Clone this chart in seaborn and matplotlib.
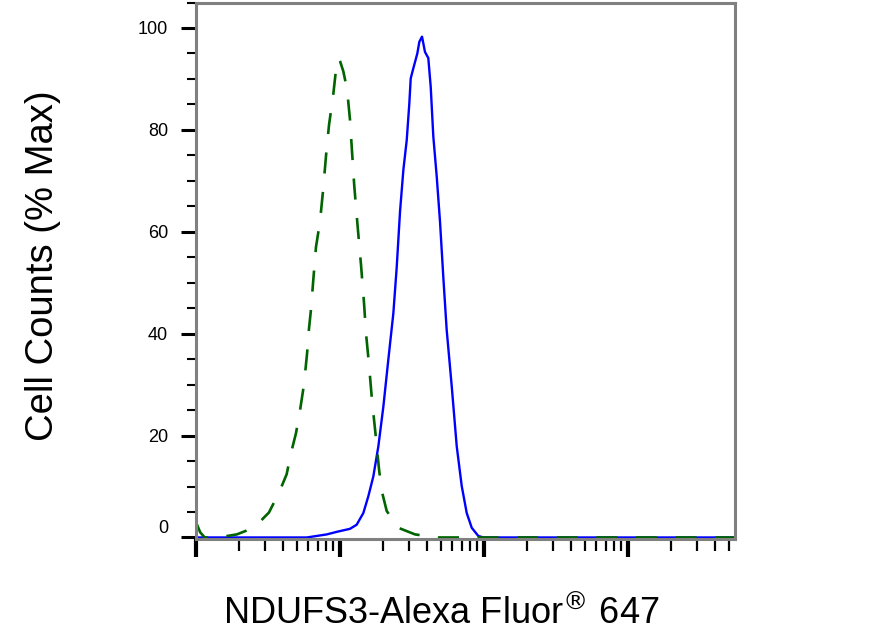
import matplotlib
matplotlib.use("Agg")
import matplotlib.pyplot as plt
import matplotlib.ticker as mticker
import pandas as pd
import seaborn as sns

# blue: NDUFS3 stained cells (intensity, % max)
stained_x = [10, 58.8, 80.9, 94.8, 117.3, 130.5, 145.2, 157.3, 170.4, 184.6, 200, 216.5,
             234.6, 247.5, 261.1, 275.5, 290.6, 302.9, 309.7, 323, 344.2, 355.6, 371,
             389, 410.2, 426.3, 444.5, 469.5, 494.7, 521.8, 550.2, 596.6, 646.3, 700,
             758.3, 821.7, 912, 989, 55300]
stained_y = [0, 0, 0.6, 1.1, 1.7, 2.5, 4.8, 8.1, 12, 17.9, 25.7, 34.9,
             44, 53, 64, 72.2, 78, 85.2, 90.1, 92.1, 95, 97.3, 98.3,
             95.3, 94.1, 88.5, 78.7, 70.8, 62, 51, 40.8, 29.7, 17.9, 10.1,
             4.8, 1.9, 0.3, 0, 0]

# green dashed: isotype control
control_x = [10, 10.7, 11.5, 14.2, 19.2, 22.2, 25.7, 28.7, 32.1, 37.7, 42.6, 45.7, 49.5,
             52.8, 56.2, 59.0, 60.9, 63.0, 65.0, 68.1, 72.6, 76.2, 80.0, 83.9, 89.4,
             94.8, 97.7, 100, 105.4, 111.9, 117.3, 121.0, 125.6, 132.6, 139.9, 146.8,
             151.6, 158.9, 166.7, 176.9, 186.7, 195.0, 211, 254, 332, 472, 55300]
control_y = [3.0, 1.0, 0, 0, 0.6, 1.3, 2.2, 3.5, 4.9, 8.8, 12.4, 16.6, 20.5,
             25, 30, 36, 41, 45, 50, 57, 62, 68, 75, 81, 86.5,
             93, 94, 93.5, 91.5, 88, 82, 76, 69, 61, 53.5, 46,
             40, 34, 27, 20, 13.3, 9.1, 5.2, 1.9, 0.6, 0, 0]

y_ticks = [0, 20, 40, 60, 80, 100]

stained = pd.DataFrame({"x": stained_x, "y": stained_y})
control = pd.DataFrame({"x": control_x, "y": control_y})

sns.set_style("white")
plt.rcParams["font.family"] = ["Liberation Sans", "DejaVu Sans"]

fig = plt.figure(figsize=(8.82, 6.42), dpi=100)
ax = fig.add_axes([196 / 882, 103 / 642, 539 / 882, 536.5 / 642])

sns.lineplot(data=stained, x="x", y="y", ax=ax, color="#0000ff", lw=1.7,
             estimator=None, sort=False)
sns.lineplot(data=control, x="x", y="y", ax=ax, color="#006400", lw=1.9,
             estimator=None, sort=False, linestyle=(0, (8, 7)))

ax.set_xscale("log")
ax.set_xlim(10, 55300)
ax.set_ylim(-0.3, 105)

ax.xaxis.set_major_locator(mticker.LogLocator(base=10, numticks=10))
ax.xaxis.set_minor_locator(mticker.LogLocator(base=10, subs=range(2, 10), numticks=10))
ax.xaxis.set_major_formatter(mticker.NullFormatter())
ax.xaxis.set_minor_formatter(mticker.NullFormatter())
ax.set_yticks(y_ticks)
ax.set_yticklabels([str(v) for v in y_ticks])
ax.yaxis.set_minor_locator(mticker.MultipleLocator(5))

for s in ax.spines.values():
    s.set_color("#808080")
    s.set_linewidth(2.2)

ax.tick_params(axis="x", which="major", direction="out", length=13, width=3,
               color="black", bottom=True)
ax.tick_params(axis="x", which="minor", direction="out", length=8.5, width=1.6,
               color="black", bottom=True)
ax.tick_params(axis="y", which="major", direction="out", length=11, width=2.2,
               color="black", left=True, labelsize=13, pad=9, labelcolor="black")
ax.tick_params(axis="y", which="minor", direction="out", length=6.5, width=1.5,
               color="black", left=True)
ax.get_yticklabels()[0].set_va("bottom")

ax.set_xlabel("NDUFS3-Alexa Fluor$^{®}$ 647", fontsize=26, color="black")
ax.xaxis.set_label_coords(0.455, -0.105)
ax.set_ylabel("Cell Counts (% Max)", fontsize=27.5, color="black")
ax.yaxis.set_label_coords(-0.25, 0.51)

fig.savefig("out.png", dpi=100)
